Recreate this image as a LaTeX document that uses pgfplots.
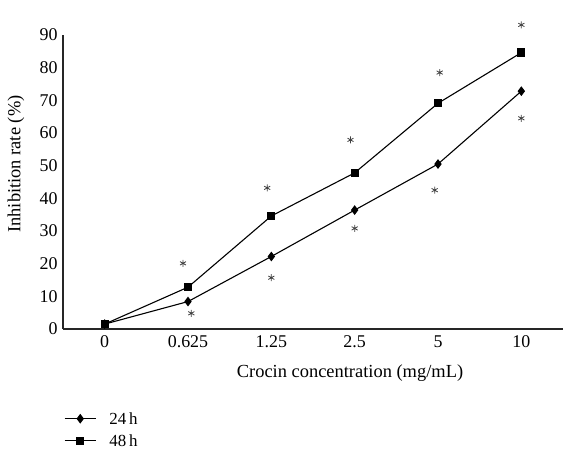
\documentclass[border=0pt]{standalone}
\usepackage{fontspec}
\setmainfont{Liberation Serif}
\usepackage{pgfplots}
\pgfplotsset{compat=1.18}
\begin{document}
\begin{tikzpicture}
\begin{axis}[
  scale only axis,
  width=500bp, height=294bp,
  xmin=-0.5, xmax=5.5, ymin=0, ymax=90,
  axis x line=bottom, axis y line=left,
  axis line style={-, line width=1.2bp, black!85},
  clip=false,
  xtick={0,1,2,3,4,5},
  xticklabels={0,0.625,1.25,2.5,5,10},
  ytick={0,10,...,90},
  major tick length=0pt,
  /pgf/number format/assume math mode=true,
  ticklabel style={font=\fontsize{18}{20}\selectfont},
  xticklabel style={yshift=-3.5bp},
  yticklabel style={xshift=-2bp},
  xlabel={Crocin concentration (mg/mL)},
  ylabel={Inhibition rate (\%)},
  label style={font=\fontsize{18.5}{21}\selectfont},
  xlabel style={at={(axis description cs:0.574,-0.1497)}, anchor=center},
  ylabel style={at={(axis description cs:-0.094,0.561)}, anchor=center},
  legend style={at={(axis description cs:0.002,-0.284)}, anchor=north west,
    draw=none, fill=none, inner sep=0pt, column sep=13bp, row sep=10bp,
    nodes={inner sep=0pt, text height=12bp, text depth=0bp},
    font=\fontsize{17}{19}\selectfont},
  legend cell align=left,
  legend image code/.code={\draw[mark repeat=2,mark phase=2] plot coordinates {(0bp,0bp)(15.5bp,0bp)(31bp,0bp)};},
]
\addplot[black, line width=1.1bp, mark=diamond*, mark size=4bp, mark options={solid, fill=black}]
  coordinates {(0,1.5) (1,8.4) (2,22.2) (3,36.4) (4,50.5) (5,72.8)};
\addlegendentry{24\,h}
\addplot[black, line width=1.1bp, mark=square*, mark size=3.6bp, mark options={solid, fill=black}]
  coordinates {(0,1.5) (1,12.8) (2,34.6) (3,47.8) (4,69.1) (5,84.6)};
\addlegendentry{48\,h}
\addplot[only marks, mark=asterisk, mark size=3.5bp, mark options={line width=0.8bp, black!75}, forget plot]
  coordinates {(0.94,20.1) (1.04,4.8) (1.95,43.2) (2.0,15.7) (2.95,57.9) (3.0,30.8) (4.02,78.5) (3.96,42.5) (5,93.1) (5,64.5)};
\coordinate (sw) at (rel axis cs:0,0);
\end{axis}
\pgfresetboundingbox
\path ([xshift=-63bp,yshift=-130bp]sw) rectangle ([xshift=502bp,yshift=329bp]sw);
\end{tikzpicture}
\end{document}
